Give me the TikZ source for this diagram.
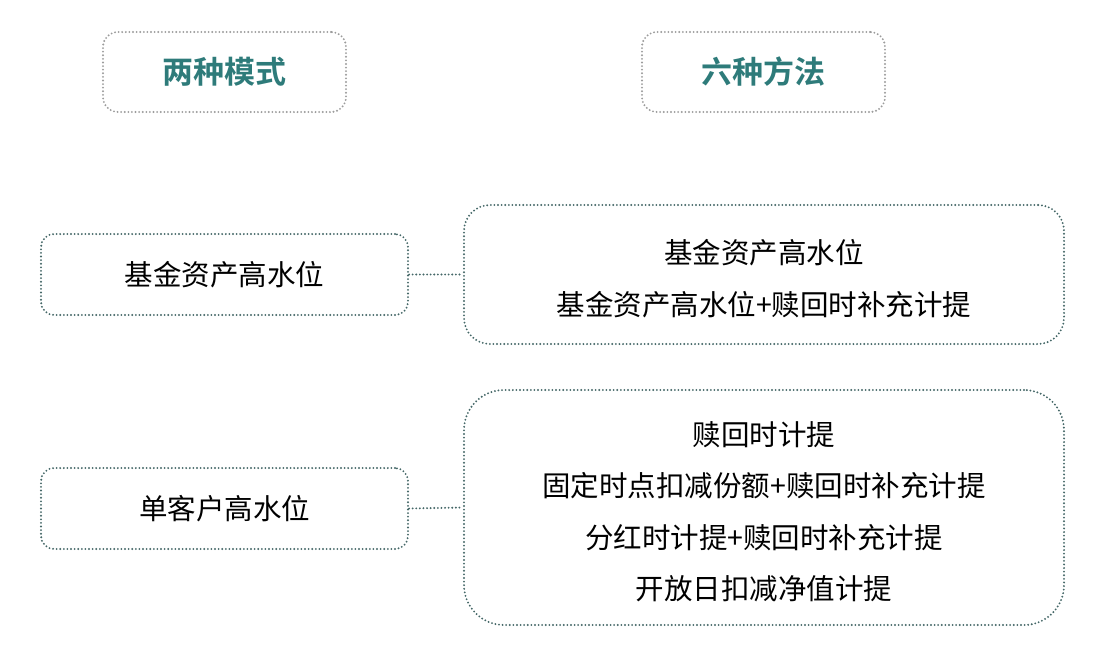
\documentclass[tikz,border=0pt]{standalone}
\usepackage{fontspec}
\usepackage{xcolor}
\newfontfamily\cjk{Noto Sans CJK SC}[BoldFont={Noto Sans CJK SC Bold}]
\definecolor{headtext}{HTML}{2E7B7A}
\definecolor{headline}{HTML}{9C9C9C}
\definecolor{boxline}{HTML}{456868}
\usetikzlibrary{positioning}
\newcommand\topgap{\rule{0pt}{32.5pt}}

\begin{document}
\begin{tikzpicture}[x=1pt,y=-1pt,
		dots/.style={line width=2.1pt,line cap=round,dash pattern=on 0pt off 3.6pt},
		head/.style={dots,draw=headline,rounded corners=15pt,minimum width=243pt,minimum height=80pt,
			font=\cjk\bfseries\fontsize{31}{36}\selectfont,text=headtext},
		mode/.style={dots,draw=boxline,rounded corners=13pt,minimum width=367pt,minimum height=81pt,
			font=\cjk\fontsize{28.5}{34}\selectfont},
		way/.style={dots,draw=boxline,minimum width=600pt,align=center,
			font=\cjk\fontsize{28.5}{51.5}\selectfont}]
	\useasboundingbox (0,0) rectangle (1106,656);
	\node[head] (h1) at (224.5,72) {两种模式};
	\node[head] (h2) at (763.5,72) {六种方法};
	\node[mode] (m1) at (224.5,274.5) {基金资产高水位};
	\node[mode] (m2) at (224.5,508.5) {单客户高水位};
	\node[way,rounded corners=26pt,minimum height=139pt] (w1) at (764,274.5)
		{\topgap 基金资产高水位\\基金资产高水位+赎回时补充计提};
	\node[way,rounded corners=40pt,minimum height=235pt] (w2) at (764,507.5)
		{\topgap 赎回时计提\\固定时点扣减份额+赎回时补充计提\\分红时计提+赎回时补充计提\\开放日扣减净值计提};
	\draw[dots,draw=boxline] (m1.east)--(w1.west);
	\draw[dots,draw=boxline] (m2.east)--(w2.west);
\end{tikzpicture}
\end{document}
